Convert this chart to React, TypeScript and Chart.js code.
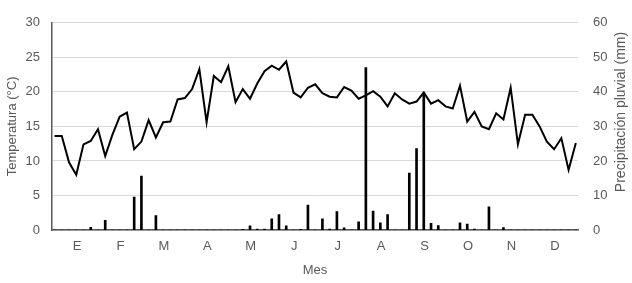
import React, { useEffect, useRef } from "react";
import { Chart, registerables } from "chart.js";

Chart.register(...registerables);

const monthLabels = ["E", "F", "M", "A", "M", "J", "J", "A", "S", "O", "N", "D"];

// temperature every 5 days (73 points)
const temperature = [
  13.6, 13.6, 9.8, 8.0, 12.4, 12.9, 14.6, 10.7, 13.8, 16.4, 17.0, 11.7, 12.8, 15.9, 13.4, 15.6, 15.7, 18.9,
  19.1, 20.4, 23.3, 15.6, 22.3, 21.4, 23.7, 18.5, 20.4, 19.0, 21.2, 23.0, 23.8, 23.2, 24.4, 19.9, 19.2, 20.6,
  21.1, 19.8, 19.3, 19.2, 20.7, 20.2, 19.0, 19.5, 20.1, 19.3, 17.9, 19.8, 18.9, 18.3, 18.6, 19.9, 18.3, 18.8,
  17.9, 17.6, 20.9, 15.7, 17.1, 15.0, 14.6, 16.9, 16.0, 20.6, 12.4, 16.7, 16.7, 15.0, 12.8, 11.7, 13.3, 8.7,
  12.6,
];

// precipitation every 5 days (73 points)
const precipitation = [
  0, 0, 0, 0, 0, 0.8, 0, 2.8, 0, 0, 0, 9.5, 15.6, 0, 4.2, 0, 0, 0,
  0, 0, 0, 0, 0, 0, 0, 0, 0.2, 1.2, 0.3, 0.3, 3.2, 4.5, 1.2, 0, 0.2, 7.2,
  0, 3.2, 0.3, 5.3, 0.6, 0, 2.4, 47.0, 5.5, 2.1, 4.5, 0, 0, 16.5, 23.6, 39.7, 1.9, 1.3,
  0, 0, 2.1, 1.7, 0.3, 0, 6.7, 0, 0.7, 0, 0, 0, 0, 0, 0, 0, 0, 0,
  0,
];

const tempTicks = [0, 5, 10, 15, 20, 25, 30];
const precipTicks = [0, 10, 20, 30, 40, 50, 60];

const TEXT = "#595959";
const FONT = "'Liberation Sans', Arial, sans-serif";
const RIGHT_TITLE = "Precipitación pluvial (mm)";

const rightTitlePlugin = {
  id: "rightTitle",
  afterDraw(chart: any) {
    const { ctx } = chart;
    ctx.save();
    ctx.translate(621, 112);
    ctx.rotate(-Math.PI / 2);
    ctx.fillStyle = TEXT;
    ctx.font = `14px ${FONT}`;
    ctx.textAlign = "center";
    ctx.textBaseline = "middle";
    ctx.fillText(RIGHT_TITLE, 0, 0);
    ctx.restore();
  },
};

export default function App() {
  const ref = useRef<HTMLCanvasElement>(null);

  useEffect(() => {
    document.body.style.margin = "0";
    const ctx = ref.current!.getContext("2d")!;
    const chart = new Chart(ctx, {
      type: "bar",
      data: {
        datasets: [
          {
            type: "line",
            data: temperature.map((v, i) => ({ x: i, y: v })),
            borderColor: "#000000",
            borderWidth: 2,
            pointRadius: 0,
            tension: 0,
            yAxisID: "y",
            order: 1,
          },
          {
            type: "bar",
            data: precipitation.map((v, i) => ({ x: i, y: v })),
            backgroundColor: "#000000",
            barThickness: 2,
            yAxisID: "y1",
            order: 2,
          },
        ] as any,
      },
      plugins: [rightTitlePlugin],
      options: {
        animation: false,
        responsive: true,
        maintainAspectRatio: false,
        layout: { padding: { top: 16, left: 0, right: 0, bottom: 0 } },
        plugins: { legend: { display: false }, tooltip: { enabled: false } },
        scales: {
          x: {
            type: "linear",
            min: -0.35,
            max: 72.3,
            offset: false,
            grid: { display: false, drawTicks: false },
            border: { display: true, color: TEXT, width: 1.5 },
            afterBuildTicks: (scale: any) => {
              scale.ticks = monthLabels.map((_, i) => ({ value: 3.1 + 6 * i }));
            },
            afterFit: (scale: any) => {
              scale.height = 53;
            },
            ticks: {
              color: TEXT,
              font: { family: FONT, size: 13 },
              padding: 9,
              maxRotation: 0,
              autoSkip: false,
              callback: (_v: any, i: number) => monthLabels[i],
            },
            title: {
              display: true,
              text: "Mes",
              color: TEXT,
              font: { family: FONT, size: 13 },
              padding: { top: 0, bottom: 5 },
            },
          },
          y: {
            position: "left",
            min: 0,
            max: 30,
            afterBuildTicks: (scale: any) => {
              scale.ticks = tempTicks.map((v) => ({ value: v }));
            },
            afterFit: (scale: any) => {
              scale.width = 52;
            },
            grid: { color: "#d9d9d9", lineWidth: 1, drawTicks: false },
            border: { display: true, color: TEXT, width: 1.5 },
            ticks: { color: TEXT, font: { family: FONT, size: 13 }, padding: 12 },
            title: {
              display: true,
              text: "Temperatura (°C)",
              color: TEXT,
              font: { family: FONT, size: 13 },
              padding: { top: 5, bottom: 0 },
            },
          },
          y1: {
            position: "right",
            min: 0,
            max: 60,
            afterBuildTicks: (scale: any) => {
              scale.ticks = precipTicks.map((v) => ({ value: v }));
            },
            afterFit: (scale: any) => {
              scale.width = 54;
            },
            grid: { display: false, drawTicks: false },
            border: { display: false },
            ticks: { color: TEXT, font: { family: FONT, size: 13 }, padding: 15 },
            title: { display: false },
          },
        },
      } as any,
    });
    return () => chart.destroy();
  }, []);

  return (
    <div style={{ position: "fixed", left: 0, top: 0, width: 632, height: 283, background: "#fff" }}>
      <canvas ref={ref} />
    </div>
  );
}
